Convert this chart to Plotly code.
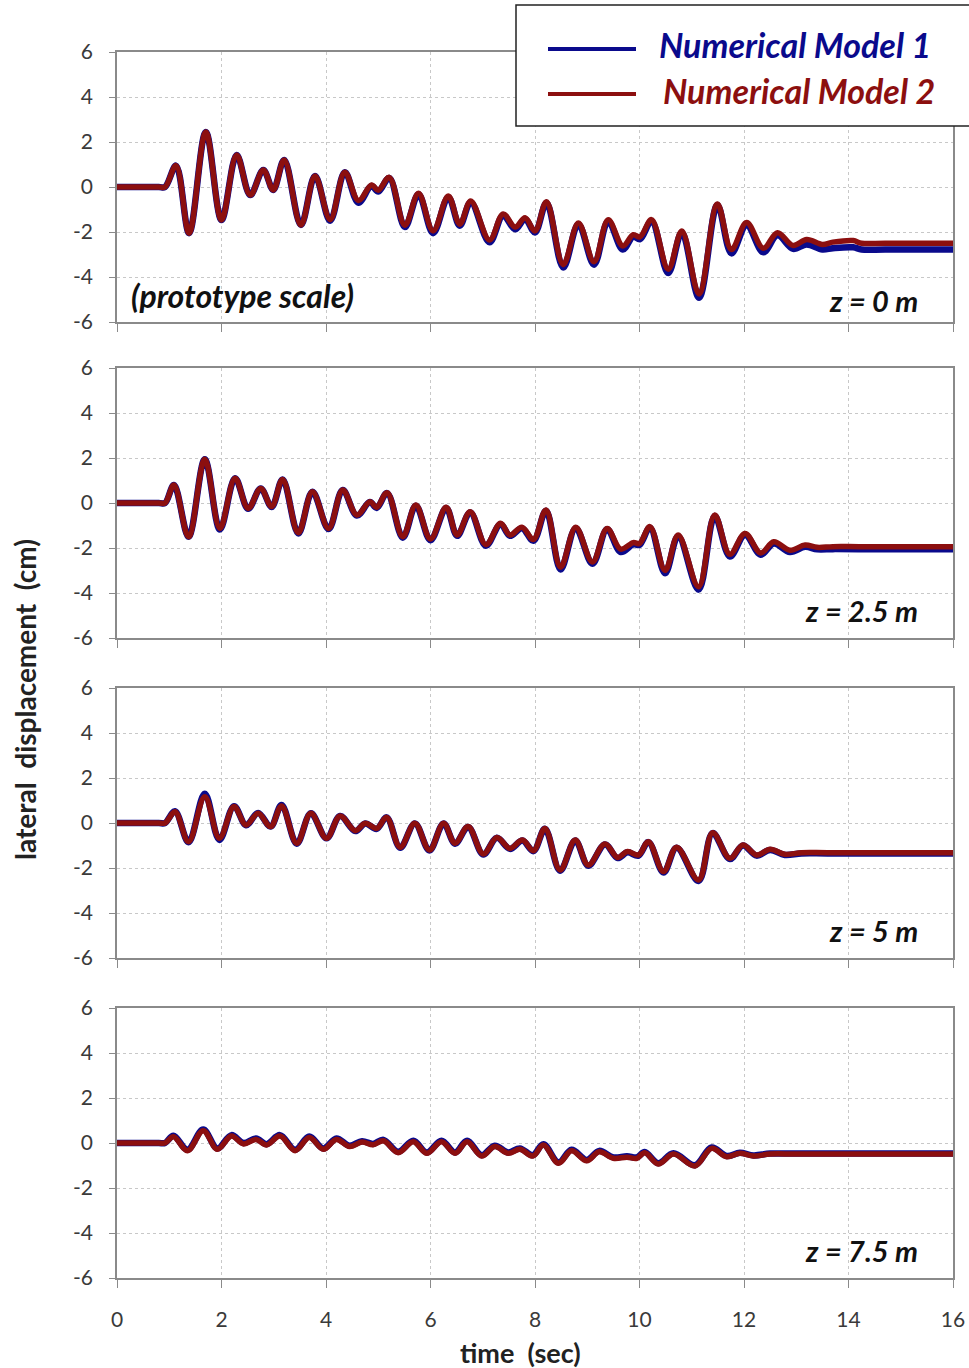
import plotly.graph_objects as go

# ---------------- data ----------------
t1 = [0, 0.8, 0.92, 1.13, 1.38, 1.70, 2.00, 2.29, 2.55, 2.80, 2.99, 3.20, 3.52, 3.79, 4.08, 4.36, 4.62, 4.87, 5.00,
      5.21, 5.51, 5.77, 6.05, 6.34, 6.56, 6.77, 7.13, 7.39, 7.62, 7.81, 8.00, 8.22, 8.54, 8.83, 9.13, 9.40, 9.68,
      9.88, 10.01, 10.23, 10.55, 10.81, 11.14, 11.49, 11.76, 12.05, 12.37, 12.64, 12.94, 13.20, 13.50, 13.70,
      14.09, 14.25, 14.7, 16.0]
red1 = [0, 0, 0, 0.95, -2.05, 2.45, -1.47, 1.42, -0.36, 0.76, -0.13, 1.2, -1.69, 0.49, -1.45, 0.66, -0.6, 0.09, -0.14,
        0.43, -1.7, -0.28, -1.95, -0.4, -1.65, -0.62, -2.35, -1.2, -1.78, -1.37, -1.95, -0.65, -3.45, -1.6, -3.32,
        -1.45, -2.62, -2.12, -2.22, -1.45, -3.65, -1.95, -4.75, -0.75, -2.78, -1.58, -2.72, -2.03, -2.6, -2.33,
        -2.55, -2.45, -2.38, -2.5, -2.5, -2.5]
blue1 = [0, 0, 0, 0.95, -2.05, 2.45, -1.47, 1.42, -0.36, 0.76, -0.13, 1.2, -1.69, 0.49, -1.5, 0.66, -0.7, 0.05, -0.2,
         0.4, -1.78, -0.32, -2.05, -0.45, -1.72, -0.68, -2.45, -1.27, -1.88, -1.42, -2.02, -0.7, -3.58, -1.65, -3.45,
         -1.52, -2.78, -2.2, -2.32, -1.52, -3.82, -2.02, -4.92, -0.8, -2.95, -1.7, -2.9, -2.15, -2.75, -2.55,
         -2.78, -2.72, -2.68, -2.78, -2.78, -2.78]

t2 = [0, 0.8, 0.92, 1.09, 1.37, 1.68, 1.97, 2.26, 2.51, 2.75, 2.96, 3.17, 3.47, 3.74, 4.05, 4.32, 4.59, 4.84, 4.97,
      5.17, 5.47, 5.72, 6.00, 6.30, 6.51, 6.76, 7.06, 7.34, 7.52, 7.75, 7.97, 8.21, 8.49, 8.78, 9.10, 9.38, 9.64,
      9.88, 10.00, 10.20, 10.49, 10.74, 11.13, 11.44, 11.73, 12.02, 12.32, 12.57, 12.88, 13.17, 13.40, 13.70,
      14.2, 16.0]
red2 = [0, 0, 0, 0.8, -1.5, 1.94, -1.13, 1.1, -0.24, 0.65, -0.16, 1.05, -1.32, 0.5, -1.13, 0.58, -0.53, 0.06, -0.19,
        0.46, -1.5, -0.09, -1.6, -0.19, -1.42, -0.39, -1.85, -0.9, -1.42, -1.08, -1.62, -0.31, -2.85, -1.08, -2.62,
        -1.13, -2.05, -1.76, -1.8, -1.05, -3.0, -1.42, -3.72, -0.53, -2.28, -1.35, -2.22, -1.72, -2.1, -1.87,
        -1.97, -1.94, -1.94, -1.94]
blue2 = [0, 0, 0, 0.8, -1.5, 1.94, -1.18, 1.1, -0.26, 0.65, -0.18, 1.05, -1.35, 0.5, -1.16, 0.58, -0.56, 0.04, -0.22,
         0.44, -1.54, -0.12, -1.65, -0.22, -1.46, -0.42, -1.9, -0.94, -1.46, -1.12, -1.68, -0.34, -2.95, -1.12, -2.7,
         -1.17, -2.18, -1.84, -1.86, -1.1, -3.12, -1.48, -3.85, -0.58, -2.38, -1.42, -2.3, -1.8, -2.18, -1.95,
         -2.06, -2.05, -2.05, -2.05]

t3 = [0, 0.8, 0.92, 1.11, 1.37, 1.68, 1.96, 2.24, 2.47, 2.70, 2.94, 3.15, 3.44, 3.71, 4.01, 4.27, 4.56, 4.75, 4.97,
      5.16, 5.42, 5.70, 5.98, 6.25, 6.47, 6.72, 7.01, 7.27, 7.52, 7.76, 7.97, 8.19, 8.48, 8.77, 9.02, 9.34, 9.58,
      9.77, 9.98, 10.17, 10.46, 10.71, 11.13, 11.40, 11.73, 11.98, 12.24, 12.50, 12.78, 13.1, 13.6, 16.0]
red3 = [0, 0, 0, 0.5, -0.83, 1.17, -0.68, 0.73, -0.09, 0.43, -0.16, 0.76, -0.9, 0.43, -0.68, 0.31, -0.34, -0.01, -0.24,
        0.25, -1.08, -0.01, -1.2, -0.01, -0.9, -0.16, -1.38, -0.64, -1.13, -0.76, -1.23, -0.24, -2.09, -0.76, -1.87,
        -0.93, -1.53, -1.27, -1.42, -0.83, -2.16, -1.08, -2.53, -0.43, -1.57, -0.98, -1.42, -1.17, -1.39, -1.32,
        -1.32, -1.32]
blue3 = [0, 0, 0, 0.52, -0.85, 1.3, -0.75, 0.75, -0.1, 0.45, -0.16, 0.8, -0.92, 0.43, -0.68, 0.31, -0.36, -0.02, -0.26,
         0.25, -1.1, -0.02, -1.22, -0.02, -0.92, -0.18, -1.4, -0.66, -1.15, -0.78, -1.25, -0.26, -2.12, -0.78, -1.9,
         -0.95, -1.56, -1.3, -1.45, -0.85, -2.2, -1.1, -2.58, -0.45, -1.6, -1.0, -1.45, -1.2, -1.42, -1.35,
         -1.35, -1.35]

t4 = [0, 0.8, 0.92, 1.08, 1.35, 1.65, 1.92, 2.19, 2.42, 2.66, 2.86, 3.12, 3.41, 3.68, 3.95, 4.20, 4.45, 4.69, 4.90,
      5.10, 5.38, 5.67, 5.93, 6.21, 6.47, 6.70, 6.98, 7.23, 7.49, 7.71, 7.96, 8.16, 8.45, 8.70, 8.99, 9.23, 9.50,
      9.76, 9.95, 10.10, 10.36, 10.65, 11.06, 11.38, 11.67, 11.92, 12.18, 12.5, 13.0, 16.0]
red4 = [0, 0, 0, 0.28, -0.34, 0.55, -0.28, 0.31, -0.04, 0.16, -0.09, 0.31, -0.34, 0.25, -0.28, 0.16, -0.16, 0.04, -0.08,
        0.1, -0.43, 0.06, -0.46, 0.06, -0.46, 0.06, -0.58, -0.16, -0.46, -0.28, -0.58, -0.09, -0.9, -0.34, -0.79,
        -0.39, -0.68, -0.63, -0.68, -0.43, -0.93, -0.49, -1.02, -0.24, -0.61, -0.46, -0.58, -0.49, -0.49, -0.49]
blue4 = [0, 0, 0, 0.32, -0.3, 0.6, -0.24, 0.35, 0.0, 0.2, -0.05, 0.35, -0.3, 0.29, -0.24, 0.2, -0.12, 0.08, -0.04,
         0.14, -0.39, 0.1, -0.42, 0.1, -0.42, 0.1, -0.54, -0.12, -0.42, -0.24, -0.54, -0.05, -0.86, -0.3, -0.75,
         -0.35, -0.64, -0.59, -0.64, -0.4, -0.9, -0.46, -0.99, -0.2, -0.58, -0.43, -0.55, -0.47, -0.47, -0.47]

panel_labels = ["z = 0 m", "z = 2.5 m", "z = 5 m", "z = 7.5 m"]
series_names = ["Numerical Model 1", "Numerical Model 2"]
x_ticks = [0, 2, 4, 6, 8, 10, 12, 14, 16]
x_ticktext = ["0", "2", "4", "6", "8", "10", "12", "14", "16"]
y_ticks = [-6, -4, -2, 0, 2, 4, 6]
y_ticktext = ["-6", "-4", "-2", "0", "2", "4", "6"]
x_title = "time  (sec)"
y_title = "lateral  displacement  (cm)"
note = "(prototype scale)"

panels = [(t1, blue1, red1), (t2, blue2, red2), (t3, blue3, red3), (t4, blue4, red4)]

# ---------------- layout geometry ----------------
W, H = 969, 1368
L, R, T, B = 117, 16, 52, 90
PW, PH = W - L - R, H - T - B


def px(x):  # pixel x -> paper
    return (x - L) / PW


def py(y):  # pixel y -> paper
    return (H - B - y) / PH


panel_px = [(52, 322), (368, 638), (688, 958), (1008, 1278)]

BLUE = "#0a0a8c"
RED = "#8c0f0f"
GRID = "#c8c8c8"
AXC = "#8a8a8a"
FONT = "Lato"
TICKC = "#3a3a3a"

fig = go.Figure()
layout = dict(
    width=W, height=H,
    margin=dict(l=L, r=R, t=T, b=B, autoexpand=False),
    paper_bgcolor="white", plot_bgcolor="white",
    showlegend=False,
)

for i, (t, b, r) in enumerate(panels):
    n = i + 1
    xa = "x" if n == 1 else f"x{n}"
    ya = "y" if n == 1 else f"y{n}"
    fig.add_trace(go.Scatter(x=t, y=b, mode="lines", name=series_names[0], xaxis=xa, yaxis=ya,
                             line=dict(color=BLUE, width=6.5, shape="spline", smoothing=1.0)))
    fig.add_trace(go.Scatter(x=t, y=r, mode="lines", name=series_names[1], xaxis=xa, yaxis=ya,
                             line=dict(color=RED, width=5.5, shape="spline", smoothing=1.0)))
    top, bot = panel_px[i]
    xkey = "xaxis" if n == 1 else f"xaxis{n}"
    ykey = "yaxis" if n == 1 else f"yaxis{n}"
    layout[xkey] = dict(
        domain=[0, 1], anchor=ya, range=[0, 16], tickvals=x_ticks, ticktext=x_ticktext,
        showticklabels=(n == 4), ticks="outside", ticklen=8, tickcolor=AXC, automargin=False,
        ticklabelstandoff=14,
        showgrid=True, gridcolor=GRID, griddash="dot", gridwidth=1,
        showline=True, linecolor=AXC, linewidth=1.5, mirror=True, zeroline=False,
        tickfont=dict(family=FONT, size=21, color=TICKC),
    )
    if n != 1:
        layout[xkey]["matches"] = "x"
    layout[ykey] = dict(
        domain=[py(bot), py(top)], anchor=xa, range=[-6, 6], tickvals=y_ticks, ticktext=y_ticktext,
        ticks="outside", ticklen=6, tickcolor=AXC, automargin=False, ticklabelstandoff=12,
        showgrid=True, gridcolor=GRID, griddash="dot", gridwidth=1,
        showline=True, linecolor=AXC, linewidth=1.5, mirror=True, zeroline=False,
        tickfont=dict(family=FONT, size=21, color=TICKC),
    )

annotations = []
label_y = [300, 610, 930, 1250]
for i, lab in enumerate(panel_labels):
    annotations.append(dict(text=f"<b><i>{lab}</i></b>", xref="paper", yref="paper", x=px(920), y=py(label_y[i]),
                            xanchor="right", yanchor="middle", showarrow=False,
                            font=dict(family=FONT, size=29, color="#111111")))
annotations.append(dict(text=f"<b><i>{note}</i></b>", xref="paper", yref="paper", x=px(129), y=py(295),
                        xanchor="left", yanchor="middle", showarrow=False,
                        font=dict(family=FONT, size=32, color="#111111")))
annotations.append(dict(text=f"<b>{y_title}</b>", xref="paper", yref="paper", x=px(25), y=py(700),
                        xanchor="center", yanchor="middle", textangle=-90, showarrow=False,
                        font=dict(family=FONT, size=28, color="#222222")))
annotations.append(dict(text=f"<b>{x_title}</b>", xref="paper", yref="paper", x=px(520), y=py(1352),
                        xanchor="center", yanchor="middle", showarrow=False,
                        font=dict(family=FONT, size=27, color="#222222")))
# legend (drawn manually to match the reference box)
annotations.append(dict(text=f"<b><i>{series_names[0]}</i></b>", xref="paper", yref="paper", x=px(657), y=py(45),
                        xanchor="left", yanchor="middle", showarrow=False,
                        font=dict(family=FONT, size=34, color=BLUE)))
annotations.append(dict(text=f"<b><i>{series_names[1]}</i></b>", xref="paper", yref="paper", x=px(661), y=py(90),
                        xanchor="left", yanchor="middle", showarrow=False,
                        font=dict(family=FONT, size=34, color=RED)))
layout["annotations"] = annotations

layout["shapes"] = [
    dict(type="rect", xref="paper", yref="paper", x0=px(516), x1=px(975), y0=py(126), y1=py(5),
         line=dict(color="#222222", width=1.5), fillcolor="white", layer="above"),
    dict(type="line", xref="paper", yref="paper", x0=px(548), x1=px(636), y0=py(49), y1=py(49),
         line=dict(color=BLUE, width=4), layer="above"),
    dict(type="line", xref="paper", yref="paper", x0=px(548), x1=px(636), y0=py(94), y1=py(94),
         line=dict(color=RED, width=4), layer="above"),
]

fig.update_layout(**layout)
fig.write_html("out.html")
